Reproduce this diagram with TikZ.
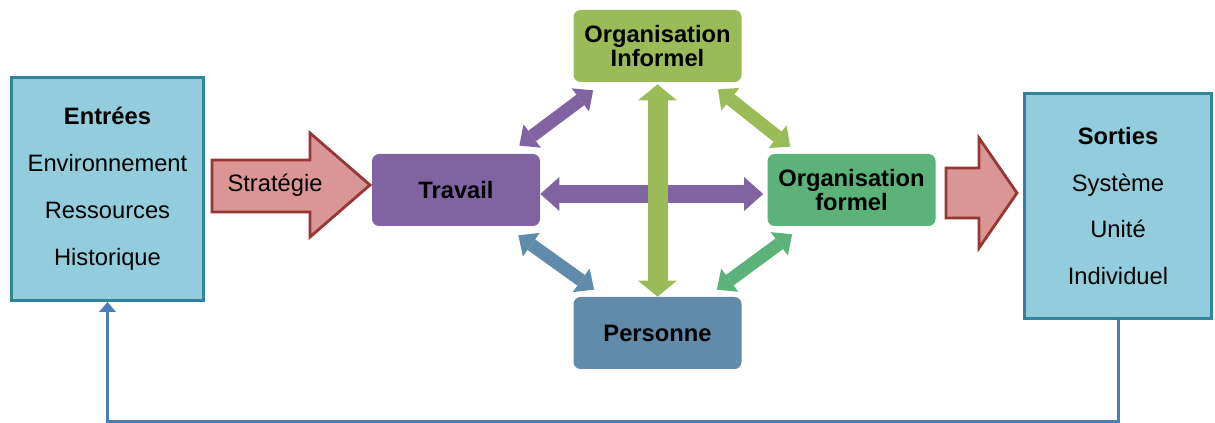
\documentclass[tikz,border=0pt]{standalone}
\usepackage{fontspec}
\setmainfont{Liberation Sans}
\usetikzlibrary{arrows.meta, positioning, calc}
\definecolor{inblue}{RGB}{147, 205, 221}
\definecolor{inborder}{RGB}{49, 132, 155}
\definecolor{stratred}{RGB}{217, 150, 148}
\definecolor{stratborder}{RGB}{149, 55, 53}
\definecolor{workpurple}{RGB}{128, 100, 162}
\definecolor{infgreen}{RGB}{155, 187, 89}
\definecolor{formgreen}{RGB}{91, 179, 122}
\definecolor{persblue}{RGB}{96, 139, 170}
\definecolor{loopblue}{RGB}{74, 126, 187}
\tikzset{
  sidebox/.style={draw=inborder, fill=inblue, line width=1.7pt, align=center, inner sep=0pt, font=\fontsize{13.5}{26.7}\selectfont},
  corebox/.style={rounded corners=4pt, minimum width=3.36cm, minimum height=1.44cm, align=center, inner sep=0pt, font=\bfseries\fontsize{13.5}{12}\selectfont},
  bigarrow/.style={draw=stratborder, fill=stratred, line width=1.6pt},
  diagarrow/.style={line width=0.26cm, {Triangle[length=0.32cm, width=0.58cm, line width=0pt]}-{Triangle[length=0.32cm, width=0.58cm, line width=0pt]}},
  hzarrow/.style={line width=0.36cm, {Triangle[length=0.38cm, width=0.68cm, line width=0pt]}-{Triangle[length=0.38cm, width=0.68cm, line width=0pt]}},
  vtarrow/.style={line width=0.4cm, {Triangle[length=0.32cm, width=0.78cm, line width=0pt]}-{Triangle[length=0.32cm, width=0.78cm, line width=0pt]}},
  loopline/.style={draw=loopblue, line width=0.06cm, -{Triangle[length=0.2cm, width=0.34cm, line width=0pt]}}
}
\begin{document}
\begin{tikzpicture}
  \useasboundingbox (0, 0) rectangle (24.3, 8.46);

  % Inputs and outputs
  \node[sidebox, minimum width=3.84cm, minimum height=4.46cm] (entrees) at (2.15, 4.68) {\textbf{Entrées}\\Environnement\\Ressources\\Historique};
  \node[sidebox, minimum width=3.74cm, minimum height=4.5cm] (sorties) at (22.36, 4.34) {\textbf{Sorties}\\Système\\Unité\\Individuel};

  % Core boxes
  \node[corebox, fill=workpurple] (travail) at (9.12, 4.66) {Travail};
  \node[corebox, fill=infgreen] (informel) at (13.15, 7.54) {Organisation\\Informel};
  \node[corebox, fill=formgreen] (formel) at (17.03, 4.66) {Organisation\\formel};
  \node[corebox, fill=persblue] (personne) at (13.15, 1.8) {Personne};

  % Block arrows
  \draw[bigarrow] (4.24, 5.26) -- (6.2, 5.26) -- (6.2, 5.8) -- (7.4, 4.76) -- (6.2, 3.72) -- (6.2, 4.22) -- (4.24, 4.22) -- cycle;
  \node[font=\fontsize{13.5}{16}\selectfont] (strat) at (5.5, 4.76) {Stratégie};
  \draw[bigarrow] (18.92, 5.1) -- (19.58, 5.1) -- (19.58, 5.7) -- (20.34, 4.6) -- (19.58, 3.5) -- (19.58, 4.1) -- (18.92, 4.1) -- cycle;

  % Links between core boxes
  \draw[hzarrow, workpurple] ([yshift=-0.08cm]travail.east) -- ([xshift=-0.08cm, yshift=-0.08cm]formel.west);
  \draw[vtarrow, infgreen] ([yshift=-0.04cm]informel.south) -- (personne.north);
  \draw[diagarrow, workpurple] ([shift={(-0.42, 0.16)}]travail.north east) -- ([shift={(0.4, -0.16)}]informel.south west);
  \draw[diagarrow, infgreen] ([shift={(-0.48, -0.14)}]informel.south east) -- ([shift={(0.46, 0.14)}]formel.north west);
  \draw[diagarrow, persblue] ([shift={(-0.44, -0.18)}]travail.south east) -- ([shift={(0.42, 0.14)}]personne.north west);
  \draw[diagarrow, formgreen] ([shift={(0.5, -0.16)}]formel.south west) -- ([shift={(-0.5, 0.14)}]personne.north east);

  % Feedback loop
  \draw[loopline] (sorties.south) -- ++(0, -2.04) -| (entrees.south);
\end{tikzpicture}
\end{document}
